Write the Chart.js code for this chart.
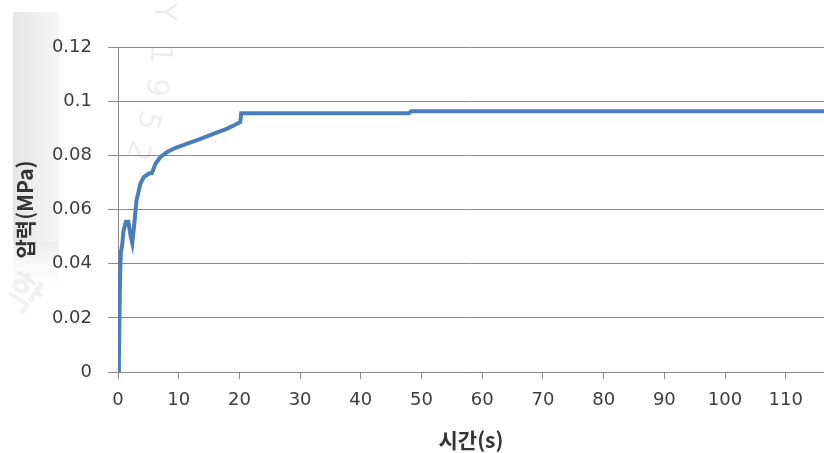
<!DOCTYPE html>
<html>
<head>
<meta charset="utf-8">
<script src="https://cdn.jsdelivr.net/npm/chart.js@4/dist/chart.umd.min.js"></script>
<style>
  html, body { margin: 0; padding: 0; background: #ffffff; }
  #wrap { position: relative; width: 824px; height: 453px; }
</style>
</head>
<body>
<div id="wrap"><canvas id="c" width="824" height="453"></canvas></div>
<script>
// Pressure build-up over time
const timeSec = [0, 0.15, 0.3, 0.45, 0.7, 0.9, 1.3, 1.7, 2.1, 2.35, 2.7, 3.05, 3.7, 4.25, 5.1, 5.6, 6.2, 7.0, 8.1, 9.5, 11.4, 13.5, 15.8, 17.8, 19.3, 20.15, 20.3, 47.9, 48.3, 116.3];
const pressureMPa = [0, 0.005, 0.03, 0.044, 0.047, 0.052, 0.0555, 0.0555, 0.050, 0.0476, 0.055, 0.0634, 0.0696, 0.072, 0.0733, 0.0735, 0.077, 0.0794, 0.0812, 0.0828, 0.0843, 0.086, 0.088, 0.0897, 0.0913, 0.0923, 0.0955, 0.0955, 0.0963, 0.0963];

const xTitle = '시간(s)';
const yTitle = '압력(MPa)';
const yTickLabels = ['0', '0.02', '0.04', '0.06', '0.08', '0.1', '0.12'];

const points = timeSec.map((t, i) => ({ x: t, y: pressureMPa[i] }));

// faint seal stamp in the page background
const stampPlugin = {
  id: 'stamp',
  beforeDraw(chart) {
    const ctx = chart.ctx;
    ctx.save();
    const g = ctx.createLinearGradient(13, 0, 60, 0);
    g.addColorStop(0, 'rgba(230,230,230,1)');
    g.addColorStop(1, 'rgba(246,246,246,1)');
    ctx.fillStyle = g;
    ctx.fillRect(13, 12, 46, 230);
    const fade = ctx.createLinearGradient(0, 242, 0, 300);
    fade.addColorStop(0, 'rgba(236,236,236,1)');
    fade.addColorStop(1, 'rgba(255,255,255,0)');
    ctx.fillStyle = fade;
    ctx.fillRect(13, 242, 46, 58);

    ctx.fillStyle = 'rgba(0,0,0,0.07)';
    ctx.font = '30px "DejaVu Sans"';
    ctx.textAlign = 'center';
    ctx.textBaseline = 'middle';
    const glyphs = [
      ['Y', 163, 12, 1.57],
      ['1', 159, 54, 1.62],
      ['9', 155, 87, 1.7],
      ['5', 147, 120, 1.8],
      ['2', 137, 150, 1.9]
    ];
    glyphs.forEach(([ch, x, y, a]) => {
      ctx.save();
      ctx.translate(x, y);
      ctx.rotate(a);
      ctx.fillText(ch, 0, 0);
      ctx.restore();
    });
    ctx.font = 'bold 40px "Noto Sans CJK KR"';
    ctx.fillStyle = 'rgba(0,0,0,0.05)';
    ctx.save();
    ctx.translate(24, 292);
    ctx.rotate(0.6);
    ctx.fillText('학', 0, 0);
    ctx.restore();
    ctx.restore();
  }
};

new Chart(document.getElementById('c'), {
  type: 'line',
  data: {
    datasets: [{
      data: points,
      borderColor: '#4a7ebb',
      borderWidth: 4,
      pointRadius: 0,
      tension: 0,
      fill: false
    }]
  },
  options: {
    responsive: false,
    animation: false,
    layout: { padding: { top: 47, right: 0, bottom: 0, left: 0 } },
    plugins: { legend: { display: false }, tooltip: { enabled: false } },
    scales: {
      x: {
        type: 'linear',
        min: 0,
        max: 116.3,
        afterFit(scale) { scale.height = 81; },
        ticks: {
          stepSize: 10,
          includeBounds: false,
          color: '#3c3c3c',
          font: { family: '"DejaVu Sans"', size: 18 },
          padding: 11,
          maxRotation: 0
        },
        grid: { drawOnChartArea: false, drawTicks: true, tickLength: 7, color: '#8a8a8a' },
        border: { color: '#8a8a8a', width: 1 },
        title: {
          display: true,
          text: xTitle,
          color: '#333333',
          font: { family: '"Noto Sans CJK KR"', size: 21, weight: 'bold' },
          padding: { top: 3, bottom: 0 }
        }
      },
      y: {
        type: 'linear',
        min: 0,
        max: 0.12,
        afterFit(scale) { scale.width = 118; },
        afterBuildTicks(scale) {
          scale.ticks = yTickLabels.map(v => ({ value: parseFloat(v) }));
        },
        ticks: {
          color: '#3c3c3c',
          font: { family: '"DejaVu Sans"', size: 18 },
          padding: 16,
          callback: (v, i) => yTickLabels[i]
        },
        grid: { color: '#8a8a8a', lineWidth: 1, tickLength: 10 },
        border: { color: '#8a8a8a', width: 1 },
        title: {
          display: true,
          text: yTitle,
          color: '#333333',
          font: { family: '"Noto Sans CJK KR"', size: 21, weight: 'bold' },
          padding: { top: 12, bottom: 0 }
        }
      }
    }
  },
  plugins: [stampPlugin]
});
</script>
</body>
</html>
